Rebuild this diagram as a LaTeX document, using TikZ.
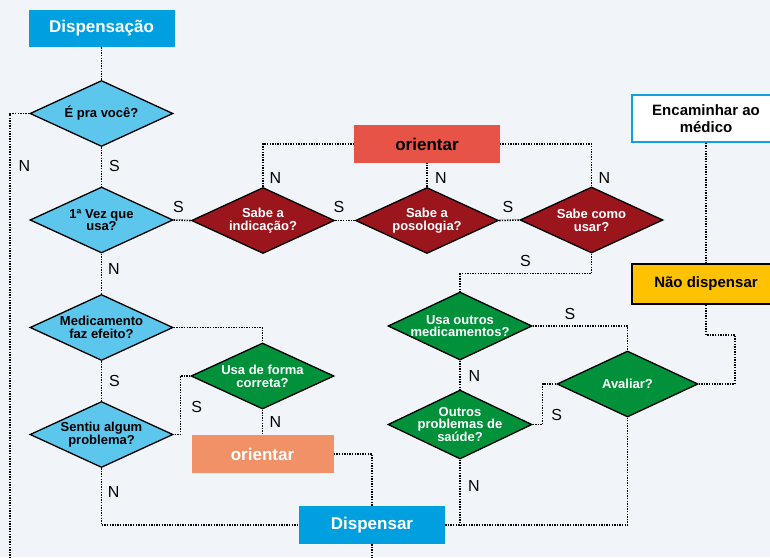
\documentclass[tikz,border=0pt]{standalone}
\usepackage{fontspec}
\setmainfont{Liberation Sans}
\usetikzlibrary{shapes.geometric}
\definecolor{bgc}{RGB}{241,245,250}
\definecolor{bluebox}{RGB}{0,159,224}
\definecolor{lblue}{RGB}{92,198,237}
\definecolor{dred}{RGB}{155,21,29}
\definecolor{redbox}{RGB}{232,83,72}
\definecolor{salmon}{RGB}{240,145,104}
\definecolor{dgreen}{RGB}{0,145,58}
\definecolor{yellowbox}{RGB}{255,194,0}
\definecolor{encborder}{RGB}{20,160,220}
\begin{document}
\begin{tikzpicture}[x=1pt,y=-1pt,
  dia/.style={diamond, draw=black, line width=1.3pt, minimum width=143pt, minimum height=66pt, inner sep=0pt},
  dtxt/.style={align=center, font=\fontsize{13}{12.8}\selectfont\bfseries, inner sep=0pt},
  bx/.style={rectangle, inner sep=0pt, align=center, font=\fontsize{17}{20}\selectfont\bfseries},
  sbx/.style={rectangle, inner sep=0pt, align=center, font=\fontsize{15}{16.5}\selectfont\bfseries},
  lbl/.style={inner sep=0pt, font=\fontsize{16}{18}\selectfont},
  conn/.style={draw=black, line width=1.6pt, dash pattern=on 1.4pt off 1.2pt}
]
\useasboundingbox (0,0) rectangle (770,557);
\fill[bgc] (0,0) rectangle (770,557);

% boxes
\node[bx, fill=bluebox, text=white, minimum width=146pt, minimum height=37pt] (start) at (101.5,28.5) {Dispensação};
\node[bx, fill=redbox, text=black, minimum width=146pt, minimum height=38pt] (or1) at (427,144) {orientar};
\node[bx, fill=salmon, text=white, minimum width=142pt, minimum height=38pt] (or2) at (262.5,454) {orientar};
\node[bx, fill=bluebox, text=white, minimum width=146pt, minimum height=38pt] (disp) at (372,525) {Dispensar};
\node[sbx, fill=white, draw=encborder, line width=1.5pt, minimum width=148pt, minimum height=47pt] (enc) at (706,118.5) {Encaminhar ao\\médico};
\node[sbx, fill=yellowbox, draw=black, line width=1.8pt, minimum width=148pt, minimum height=40pt] (nd) at (706,284) {Não dispensar};

% diamonds
\node[dia, fill=lblue] (q1) at (101.5,113.5) {};
\node[dtxt] (q1t) at (q1) {É pra você?};
\node[dia, fill=lblue] (q2) at (101.5,220) {};
\node[dtxt] (q2t) at (q2) {1ª Vez que\\usa?};
\node[dia, fill=lblue] (q3) at (101.5,327.5) {};
\node[dtxt] (q3t) at (q3) {Medicamento\\faz efeito?};
\node[dia, fill=lblue] (q4) at (101.5,434.5) {};
\node[dtxt] (q4t) at (q4) {Sentiu algum\\problema?};

\node[dia, fill=dred] (r1) at (263,220.5) {};
\node[dtxt, text=white] (r1t) at (r1) {Sabe a\\indicação?};
\node[dia, fill=dred] (r2) at (427,220.5) {};
\node[dtxt, text=white] (r2t) at (r2) {Sabe a\\posologia?};
\node[dia, fill=dred] (r3) at (591.5,220) {};
\node[dtxt, text=white] (r3t) at (r3) {Sabe como\\usar?};

\node[dia, fill=dgreen] (g1) at (262.5,376) {};
\node[dtxt, text=white] (g1t) at (g1) {Usa de forma\\correta?};
\node[dia, fill=dgreen, minimum width=144pt, minimum height=68pt] (g2) at (460,326) {};
\node[dtxt, text=white] (g2t) at (g2) {Usa outros\\medicamentos?};
\node[dia, fill=dgreen, minimum width=144pt, minimum height=69pt] (g3) at (460,424.5) {};
\node[dtxt, text=white] (g3t) at (g3) {Outros\\problemas de\\saúde?};
\node[dia, fill=dgreen, minimum width=141pt] (av) at (627.5,384) {};
\node[dtxt, text=white] (avt) at (av) {Avaliar?};

% free ends
\coordinate (leftend) at (10,562);
\coordinate (bottomend) at (372,562);
\coordinate (avbend) at (735,335);

% connectors
\draw[conn] (start.south) -- (q1.north);
\draw[conn] (q1.west) -| (leftend);
\draw[conn] (q1.south) -- (q2.north);
\draw[conn] (q2.east) -- (r1.west);
\draw[conn] (q2.south) -- (q3.north);
\draw[conn] (q3.south) -- (q4.north);
\draw[conn] (q3.east) -| (g1.north);
\draw[conn] (g1.west) -- ++(-10,0) |- (q4.east);
\draw[conn] (g1.south) -- (or2.north);
\draw[conn] (or2.east) -| (disp.north);
\draw[conn] (q4.south) |- (disp.west);
\draw[conn] (disp.south) -- (bottomend);
\draw[conn] (r1.east) -- (r2.west);
\draw[conn] (r2.east) -- (r3.west);
\draw[conn] (r1.north) |- (or1.west);
\draw[conn] (r2.north) -- (or1.south);
\draw[conn] (r3.north) |- (or1.east);
\draw[conn] (r3.south) -- ++(0,20) -| (g2.north);
\draw[conn] (g2.east) -| (av.north);
\draw[conn] (g2.south) -- (g3.north);
\draw[conn] (g3.east) -- ++(10,0) |- (av.west);
\draw[conn] (av.east) -| (avbend) -| (nd.south);
\draw[conn] (enc.south) -- (nd.north);
\draw[conn] (disp.east) -| (av.south);
\draw[conn] (g3.south) -- (g3.south |- disp.east);

% labels
\node[lbl] (l1) at (24.5,166) {N};
\node[lbl] (l2) at (114.5,166) {S};
\node[lbl] (l3) at (178.5,207) {S};
\node[lbl] (l4) at (114,269) {N};
\node[lbl] (l5) at (114.5,380.5) {S};
\node[lbl] (l6) at (196.7,407) {S};
\node[lbl] (l7) at (275.3,422) {N};
\node[lbl] (l8) at (113.7,492) {N};
\node[lbl] (l9) at (275.5,177.5) {N};
\node[lbl] (l10) at (339,207) {S};
\node[lbl] (l11) at (441,177.5) {N};
\node[lbl] (l12) at (508,207) {S};
\node[lbl] (l13) at (604.5,177.5) {N};
\node[lbl] (l14) at (525.5,261) {S};
\node[lbl] (l15) at (570,314) {S};
\node[lbl] (l16) at (474.3,376) {N};
\node[lbl] (l17) at (556.7,415) {S};
\node[lbl] (l18) at (474,486) {N};
\end{tikzpicture}
\end{document}
